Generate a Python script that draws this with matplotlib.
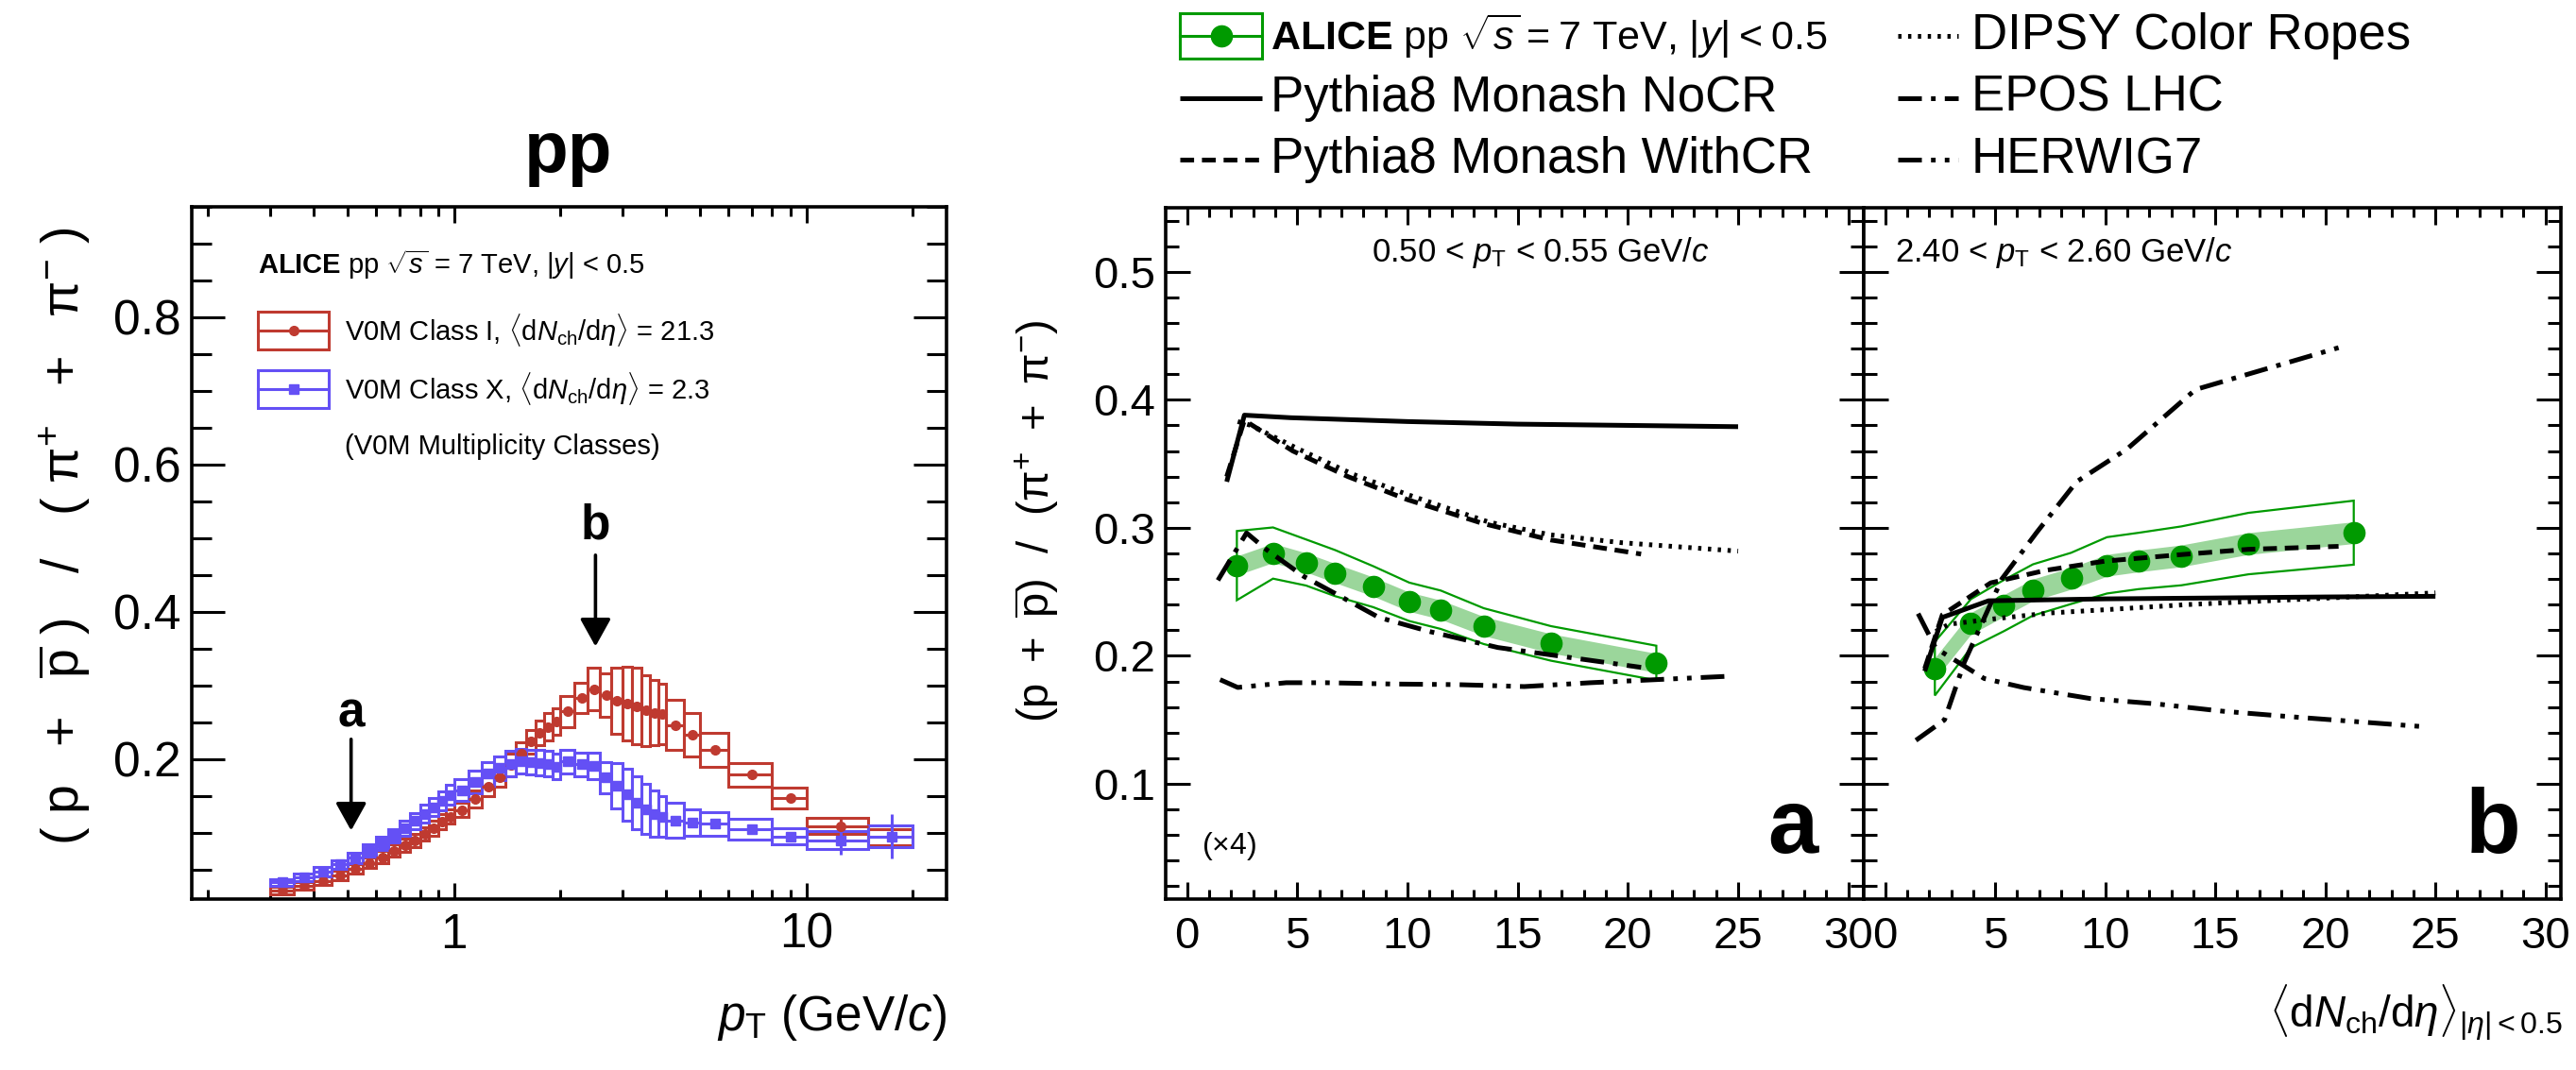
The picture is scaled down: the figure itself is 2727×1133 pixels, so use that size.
import numpy as np
import matplotlib
matplotlib.use("Agg")
import matplotlib.pyplot as plt
from matplotlib.patches import Rectangle, Polygon
from matplotlib.lines import Line2D
from matplotlib.ticker import MultipleLocator, LogLocator, NullFormatter, FixedLocator, FixedFormatter

plt.rcParams['font.family'] = ['Liberation Sans', 'DejaVu Sans']
plt.rcParams['mathtext.fontset'] = 'custom'
plt.rcParams['mathtext.rm'] = 'Liberation Sans'
plt.rcParams['mathtext.it'] = 'Liberation Sans:italic'
plt.rcParams['mathtext.bf'] = 'Liberation Sans:bold'
plt.rcParams['lines.scale_dashes'] = False

# ----- left panel: (p+pbar)/(pi+ + pi-) vs pT, two V0M classes -----
pt_lo = [0.30, 0.35, 0.40, 0.45, 0.50, 0.55, 0.60, 0.65, 0.70, 0.75, 0.80, 0.85, 0.90, 0.95,
         1.0, 1.1, 1.2, 1.3, 1.4, 1.5, 1.6, 1.7, 1.8, 1.9, 2.0, 2.2, 2.4, 2.6, 2.8, 3.0,
         3.2, 3.4, 3.6, 3.8, 4.0, 4.5, 5.0, 6.0, 8.0, 10.0, 15.0]
pt_hi = [0.35, 0.40, 0.45, 0.50, 0.55, 0.60, 0.65, 0.70, 0.75, 0.80, 0.85, 0.90, 0.95, 1.0,
         1.1, 1.2, 1.3, 1.4, 1.5, 1.6, 1.7, 1.8, 1.9, 2.0, 2.2, 2.4, 2.6, 2.8, 3.0, 3.2,
         3.4, 3.6, 3.8, 4.0, 4.5, 5.0, 6.0, 8.0, 10.0, 15.0, 20.0]

ratio_cls1 = [0.022, 0.028, 0.035, 0.042, 0.051, 0.059, 0.067, 0.076, 0.083, 0.090, 0.098, 0.106,
              0.115, 0.122, 0.131, 0.146, 0.163, 0.176, 0.192, 0.208, 0.224, 0.236, 0.244, 0.251,
              0.265, 0.283, 0.295, 0.287, 0.279, 0.275, 0.272, 0.266, 0.263, 0.261, 0.246, 0.233,
              0.213, 0.179, 0.147, 0.109, 0.094]
sys_cls1 = [0.005, 0.005, 0.006, 0.006, 0.007, 0.007, 0.008, 0.008, 0.009, 0.009, 0.009, 0.010,
            0.010, 0.010, 0.010, 0.012, 0.013, 0.014, 0.015, 0.015, 0.016, 0.017, 0.018, 0.018,
            0.021, 0.021, 0.029, 0.029, 0.045, 0.050, 0.052, 0.048, 0.044, 0.041, 0.034, 0.029,
            0.023, 0.016, 0.014, 0.011, 0.011]
stat_cls1 = [0.001] * 30 + [0.002, 0.002, 0.002, 0.002, 0.002, 0.003, 0.003, 0.004, 0.005, 0.010, 0.020]

ratio_cls10 = [0.0325, 0.0395, 0.047, 0.057, 0.066, 0.076, 0.086, 0.0965, 0.106, 0.116, 0.126, 0.135,
               0.1436, 0.1517, 0.158, 0.169, 0.180, 0.188, 0.194, 0.197, 0.196, 0.195, 0.194, 0.190,
               0.197, 0.193, 0.1905, 0.175, 0.164, 0.152, 0.141, 0.132, 0.126, 0.122, 0.117, 0.114,
               0.112, 0.105, 0.095, 0.090, 0.095]
sys_cls10 = [0.005, 0.005, 0.006, 0.006, 0.007, 0.008, 0.009, 0.009, 0.010, 0.011, 0.012, 0.012,
             0.013, 0.013, 0.015, 0.016, 0.016, 0.016, 0.017, 0.017, 0.017, 0.017, 0.017, 0.017,
             0.016, 0.016, 0.018, 0.021, 0.031, 0.035, 0.036, 0.034, 0.031, 0.028, 0.024, 0.018,
             0.016, 0.014, 0.011, 0.012, 0.015]
stat_cls10 = [0.001] * 30 + [0.002, 0.002, 0.002, 0.002, 0.002, 0.003, 0.004, 0.005, 0.006, 0.020, 0.030]

# ----- right panels: ratio vs <dNch/deta> in two pT bins -----
dndeta = [2.26, 3.90, 5.40, 6.72, 8.45, 10.08, 11.51, 13.46, 16.51, 21.29]

ratio_a = [0.2705, 0.2803, 0.2729, 0.2646, 0.254, 0.2422, 0.236, 0.2232, 0.2097, 0.1944]
uncorr_a = [0.0075] * 10
total_a = [0.027, 0.020, 0.018, 0.018, 0.016, 0.015, 0.015, 0.014, 0.0135, 0.0135]

ratio_b = [0.190, 0.2253, 0.2393, 0.2515, 0.2605, 0.2707, 0.2741, 0.2781, 0.2877, 0.2962]
uncorr_b = [0.0085] * 10
total_b = [0.021, 0.019, 0.020, 0.020, 0.020, 0.022, 0.022, 0.023, 0.024, 0.025]

nocr_x = [1.8, 2.6, 4.7, 10, 15, 20, 25]
nocr_a = [0.336, 0.388, 0.386, 0.383, 0.381, 0.380, 0.379]
nocr_b = [0.188, 0.230, 0.243, 0.2445, 0.2452, 0.246, 0.2465]

withcr_x = [1.8, 2.6, 4.8, 7.3, 10.0, 13.4, 16.5, 20.6]
withcr_a = [0.340, 0.384, 0.360, 0.340, 0.322, 0.3035, 0.2905, 0.2795]
withcr_b = [0.190, 0.232, 0.257, 0.2668, 0.274, 0.279, 0.2832, 0.2855]

dipsy_x = [2.3, 2.9, 5, 7.5, 10, 13.7, 16.5, 19.7, 25]
dipsy_a = [0.383, 0.380, 0.362, 0.342, 0.326, 0.3044, 0.2945, 0.2884, 0.2818]
dipsy_b = [0.219, 0.2247, 0.229, 0.2335, 0.236, 0.240, 0.2423, 0.2448, 0.2492]

epos_x = [1.4, 2.7, 3.6, 5.3, 6.9, 8.7, 11.0, 14.1, 20.6]
epos_a = [0.259, 0.296, 0.283, 0.262, 0.247, 0.230, 0.219, 0.2065, 0.191]
epos_b = [0.134, 0.150, 0.195, 0.260, 0.2967, 0.336, 0.3617, 0.408, 0.4407]

herwig_x = [1.5, 2.3, 4.5, 6.3, 9.3, 12.3, 15.3, 18.3, 24.5]
herwig_a = [0.1814, 0.1753, 0.179, 0.179, 0.178, 0.1775, 0.176, 0.179, 0.184]
herwig_b = [0.233, 0.206, 0.1823, 0.1752, 0.1667, 0.1625, 0.1568, 0.1526, 0.1446]

RED = '#bf3a30'
BLUE = '#6450f5'
GREEN = '#009a00'
BAND = '#9bd69b'

LS_NOCR = '-'
LS_WITHCR = (0, (10.5, 6))
LS_DIPSY = (0, (2.5, 5))
LS_EPOS = (0, (18, 7, 3.5, 7))
LS_HERWIG = (0, (18, 7, 3.5, 7, 3.5, 7))
MODEL_LW = 3.6

RATIO_LABEL_WIDE = (r'$(\ \mathrm{p}\ \ +\ \ \overline{\mathrm{p}}\ )\ \ \ /\ \ \ '
                    r'(\ \mathrm{\pi}^{+}\ \ +\ \ \mathrm{\pi}^{-}\ )$')
RATIO_LABEL = (r'$(\mathrm{p}\ +\ \overline{\mathrm{p}})\ \ /\ \ '
               r'(\mathrm{\pi}^{+}\ +\ \mathrm{\pi}^{-})$')

W, H = 2727, 1133
fig = plt.figure(figsize=(W / 100, H / 100), dpi=100)


def add_axes_px(x0, y0, x1, y1):
    return fig.add_axes([x0 / W, 1 - y1 / H, (x1 - x0) / W, (y1 - y0) / H])


def fxy(x, y):
    return x / W, 1 - y / H


def style_frame(ax, xmaj, xmin, ymaj, ymin, size, xpad):
    for sp in ax.spines.values():
        sp.set_linewidth(2.6)
    ax.tick_params(which='both', direction='in', top=True, right=True, width=2.2, labelsize=size)
    ax.tick_params(axis='x', which='major', length=xmaj, pad=xpad)
    ax.tick_params(axis='x', which='minor', length=xmin)
    ax.tick_params(axis='y', which='major', length=ymaj, pad=8)
    ax.tick_params(axis='y', which='minor', length=ymin)


# ---------------- left panel ----------------
axL = add_axes_px(203, 219, 1002, 952)
axL.set_xscale('log')
axL.set_xlim(0.18, 25)
axL.set_ylim(0.01, 0.95)


def draw_class(ax, vals, sys, stat, color, marker, ms):
    lo = np.array(pt_lo)
    hi = np.array(pt_hi)
    xc = (lo + hi) / 2
    for l, h, v, s in zip(lo, hi, vals, sys):
        ax.add_patch(Rectangle((l, v - s), h - l, 2 * s, fill=False, ec=color, lw=2.2, zorder=2))
    ax.errorbar(xc, vals, xerr=[xc - lo, hi - xc], yerr=stat, fmt=marker, color=color,
                ms=ms, elinewidth=2.2, capsize=0, zorder=3)


draw_class(axL, ratio_cls1, sys_cls1, stat_cls1, RED, 'o', 7)
draw_class(axL, ratio_cls10, sys_cls10, stat_cls10, BLUE, 's', 7)

axL.xaxis.set_major_locator(FixedLocator([1, 10]))
axL.xaxis.set_major_formatter(FixedFormatter(['1', '10']))
axL.xaxis.set_minor_locator(LogLocator(base=10, subs=np.arange(2, 10)))
axL.xaxis.set_minor_formatter(NullFormatter())
axL.yaxis.set_major_locator(MultipleLocator(0.2))
axL.yaxis.set_minor_locator(MultipleLocator(0.05))
style_frame(axL, 12, 7, 25, 15, 37, 10)

arrow = dict(arrowstyle='-|>,head_length=0.45,head_width=0.25', lw=2.6, color='k',
             mutation_scale=40, shrinkA=0, shrinkB=0)
axL.annotate('', xy=(0.51, 0.103), xytext=(0.51, 0.227), arrowprops=arrow)
axL.annotate('', xy=(2.52, 0.353), xytext=(2.52, 0.477), arrowprops=arrow)
axL.text(0.51, 0.261, 'a', ha='center', va='center', fontsize=37, fontweight='bold')
axL.text(2.52, 0.517, 'b', ha='center', va='center', fontsize=37, fontweight='bold')

fig.text(*fxy(602, 182), 'pp', ha='center', va='baseline', fontsize=55, fontweight='bold')
fig.text(*fxy(68, 568), RATIO_LABEL_WIDE, rotation=90, ha='center', va='center', fontsize=40)
fig.text(*fxy(1002, 1078), r'$p_{\mathrm{T}}$ (GeV/$c$)', ha='right', va='center', fontsize=37)

# left legend
LEG_FS = 21
fig.text(*fxy(273, 280), r'$\mathbf{ALICE}$ pp $\sqrt{s}$ = 7 TeV, |$y$| < 0.5',
         ha='left', va='center', fontsize=LEG_FS)
for yc, col, mk, label in [
        (350, RED, 'o', r'V0M Class I, $\langle\mathrm{d}N_{\mathrm{ch}}/\mathrm{d}\eta\rangle$ = 21.3'),
        (412, BLUE, 's', r'V0M Class X, $\langle\mathrm{d}N_{\mathrm{ch}}/\mathrm{d}\eta\rangle$ = 2.3')]:
    x0, y0 = fxy(273, yc + 20)
    x1, y1 = fxy(348, yc - 20)
    fig.add_artist(Rectangle((x0, y0), x1 - x0, y1 - y0, fill=False, ec=col, lw=2.2,
                             transform=fig.transFigure))
    fig.add_artist(Line2D([x0, x1], [fxy(0, yc)[1]] * 2, color=col, lw=2.2,
                          transform=fig.transFigure))
    fig.add_artist(Line2D([(x0 + x1) / 2], [fxy(0, yc)[1]], color=col, lw=0, marker=mk, ms=7,
                          transform=fig.transFigure))
    fig.text(*fxy(365, yc), label, ha='left', va='center', fontsize=LEG_FS)
fig.text(*fxy(365, 473), '(V0M Multiplicity Classes)', ha='left', va='center', fontsize=LEG_FS)

# ---------------- multiplicity panels ----------------
axA = add_axes_px(1234, 220, 1973, 952)
axB = add_axes_px(1973, 220, 2711, 952)

models = [
    (nocr_x, nocr_a, nocr_b, LS_NOCR),
    (withcr_x, withcr_a, withcr_b, LS_WITHCR),
    (dipsy_x, dipsy_a, dipsy_b, LS_DIPSY),
    (epos_x, epos_a, epos_b, LS_EPOS),
    (herwig_x, herwig_a, herwig_b, LS_HERWIG),
]

for ax, ratio, unc, tot, idx in [(axA, ratio_a, uncorr_a, total_a, 1),
                                  (axB, ratio_b, uncorr_b, total_b, 2)]:
    x = np.array(dndeta)
    y = np.array(ratio)
    u = np.array(unc)
    t = np.array(tot)
    ax.fill_between(x, y - u, y + u, color=BAND, lw=0, zorder=1)
    env = np.column_stack([np.concatenate([x, x[::-1]]),
                           np.concatenate([y + t, (y - t)[::-1]])])
    ax.add_patch(Polygon(env, closed=True, fill=False, ec=GREEN, lw=1.6, zorder=2))
    ax.plot(x, y, 'o', color=GREEN, ms=16, zorder=3)
    for mx, ma, mb, ls in models:
        ax.plot(mx, ma if idx == 1 else mb, color='k', lw=MODEL_LW, ls=ls, zorder=4,
                solid_capstyle='butt', dash_capstyle='butt')
    ax.set_xlim(-0.97, 30.7)
    ax.set_ylim(0.01, 0.55)
    ax.xaxis.set_major_locator(MultipleLocator(5))
    ax.xaxis.set_minor_locator(MultipleLocator(1))
    ax.yaxis.set_major_locator(MultipleLocator(0.1))
    ax.yaxis.set_minor_locator(MultipleLocator(0.02))
    style_frame(ax, 13, 7, 19, 10, 34, 13)

axB.tick_params(labelleft=False)

axA.text(0.295, 0.935, r'0.50 < $p_{\mathrm{T}}$ < 0.55 GeV/$c$', transform=axA.transAxes,
         ha='left', va='center', fontsize=25)
axB.text(0.045, 0.935, r'2.40 < $p_{\mathrm{T}}$ < 2.60 GeV/$c$', transform=axB.transAxes,
         ha='left', va='center', fontsize=25)
fig.text(*fxy(1272, 896), r'($\times$4)', ha='left', va='center', fontsize=23)
fig.text(*fxy(1925, 903), 'a', ha='right', va='baseline', fontsize=69, fontweight='bold')
fig.text(*fxy(2668, 903), 'b', ha='right', va='baseline', fontsize=69, fontweight='bold')

fig.text(*fxy(1098, 552), RATIO_LABEL, rotation=90, ha='center', va='center', fontsize=34)
fig.text(*fxy(2713, 1072), r'$\langle\mathrm{d}N_{\mathrm{ch}}/\mathrm{d}\eta\rangle_{|\eta|<0.5}$',
         ha='right', va='center', fontsize=33)

# top legend
TOP_FS = 38


def key_line(x0, x1, y, ls):
    fig.add_artist(Line2D([x0 / W, x1 / W], [1 - y / H] * 2, color='k', lw=MODEL_LW, ls=ls,
                          solid_capstyle='butt', dash_capstyle='butt', transform=fig.transFigure))


kx0, kx1 = fxy(1249, 0)[0], fxy(1336, 0)[0]
ky0, ky1 = fxy(0, 62)[1], fxy(0, 14)[1]
fig.add_artist(Rectangle((kx0, ky0), kx1 - kx0, ky1 - ky0, fill=False, ec=GREEN, lw=2.2,
                         transform=fig.transFigure))
fig.add_artist(Line2D([kx0, kx1], [fxy(0, 38)[1]] * 2, color=GREEN, lw=2.2, transform=fig.transFigure))
fig.add_artist(Line2D([(kx0 + kx1) / 2], [fxy(0, 38)[1]], color=GREEN, lw=0, marker='o', ms=16,
                      transform=fig.transFigure))
fig.text(*fxy(1345, 38), '$\\mathbf{ALICE}$ pp $\\sqrt{s}$\u2009=\u20097 TeV, |$y$|\u2009<\u20090.5',
         ha='left', va='center', fontsize=31)

for y, ls, label in [(104, LS_NOCR, 'Pythia8 Monash NoCR'), (169, LS_WITHCR, 'Pythia8 Monash WithCR')]:
    key_line(1249, 1336, y, ls)
    fig.text(*fxy(1345, y), label, ha='left', va='center', fontsize=TOP_FS)
for y, ls, label in [(38, LS_DIPSY, 'DIPSY Color Ropes'), (104, LS_EPOS, 'EPOS LHC'),
                     (169, LS_HERWIG, 'HERWIG7')]:
    key_line(2009, 2073, y, ls)
    fig.text(*fxy(2087, y), label, ha='left', va='center', fontsize=TOP_FS)

fig.savefig('out.png', dpi=100)
